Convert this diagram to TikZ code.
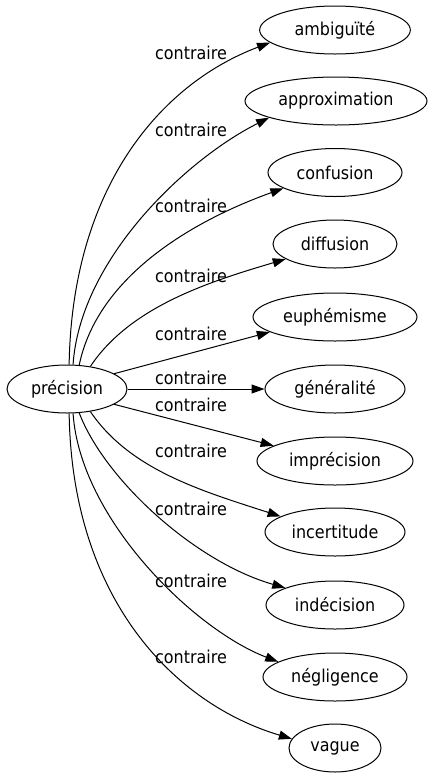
\documentclass[tikz,border=0pt]{standalone}
\usepackage{fontspec}
\setmainfont{DejaVu Sans Condensed}
\usetikzlibrary{arrows.meta,shapes.geometric}
\begin{document}
\begin{tikzpicture}[x=0.75pt,y=-0.75pt,
  word/.style={ellipse,draw,line width=0.75pt,inner sep=0pt,minimum height=36pt,font=\fontsize{13.3pt}{16pt}\selectfont},
  lab/.style={inner sep=0pt,font=\fontsize{13.3pt}{16pt}\selectfont},
  edge/.style={line width=0.75pt,-{Triangle[length=9.75pt,width=6.75pt]}}]
\useasboundingbox (0,0) rectangle (430,779);
\node[word,minimum width=90pt] (p) at (67,389) {précision};
\node[word,minimum width=113pt] (t1) at (335,30) {ambiguïté};
\node[word,minimum width=136.5pt] (t2) at (336,101) {approximation};
\node[word,minimum width=100.5pt] (t3) at (335,172.5) {confusion};
\node[word,minimum width=93pt] (t4) at (335,244) {diffusion};
\node[word,minimum width=123pt] (t5) at (335,317) {euphémisme};
\node[word,minimum width=105pt] (t6) at (335,389) {généralité};
\node[word,minimum width=117pt] (t7) at (335,461) {imprécision};
\node[word,minimum width=105pt] (t8) at (335,532) {incertitude};
\node[word,minimum width=103.5pt] (t9) at (335,605) {indécision};
\node[word,minimum width=108pt] (t10) at (335,677) {négligence};
\node[word,minimum width=69pt] (t11) at (335,748) {vague};
\node[lab] (l1) at (191,53) {contraire};
\node[lab] (l2) at (191,130) {contraire};
\node[lab] (l3) at (191,206) {contraire};
\node[lab] (l4) at (191,276) {contraire};
\node[lab] (l5) at (191,334) {contraire};
\node[lab] (l6) at (191,378) {contraire};
\node[lab] (l7) at (191,405) {contraire};
\node[lab] (l8) at (191,451) {contraire};
\node[lab] (l9) at (191,509) {contraire};
\node[lab] (l10) at (191,581) {contraire};
\node[lab] (l11) at (191,657) {contraire};
\draw[edge] (p.85) .. controls (72,188) and (160,84) .. (t1.191.7);
\draw[edge] (p.76) .. controls (80,260) and (185,160) .. (t2.194.4);
\draw[edge] (p.63) .. controls (98,275) and (195,220) .. (t3.197.2);
\draw[edge] (p.44) .. controls (130,307) and (208,282) .. (t4.197.7);
\draw[edge] (p.18) -- (t5.193);
\draw[edge] (p.0) -- (t6.180);
\draw[edge] (p.-18) -- (t7.166);
\draw[edge] (p.-44) .. controls (130,470) and (202,491) .. (t8.164.3);
\draw[edge] (p.-63) .. controls (105,480) and (195,562) .. (t9.161.9);
\draw[edge] (p.-76) .. controls (80,518) and (193,629) .. (t10.165.5);
\draw[edge] (p.-85) .. controls (72,600) and (175,704) .. (t11.168.7);
\end{tikzpicture}
\end{document}
